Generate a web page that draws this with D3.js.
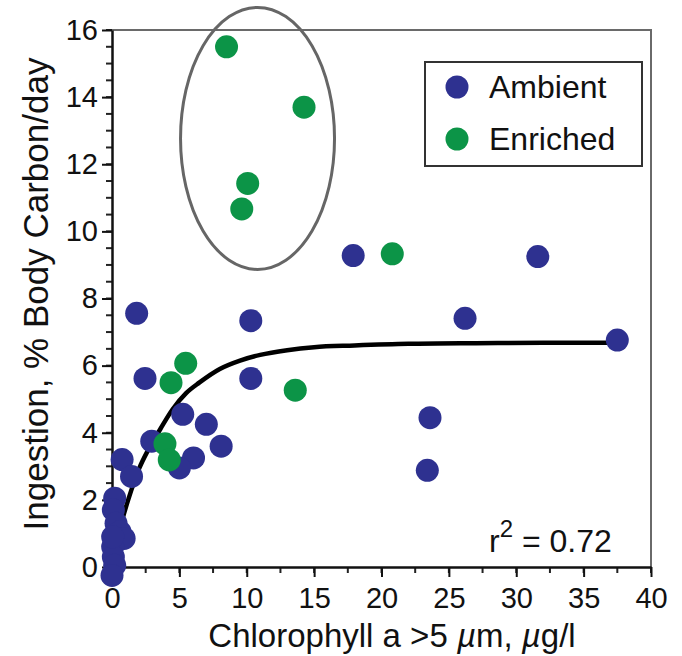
<!DOCTYPE html>
<html>
<head>
<meta charset="utf-8">
<script src="https://cdn.jsdelivr.net/npm/d3@7"></script>
<style>
  html, body { margin: 0; padding: 0; background: #fff; }
  svg { display: block; font-family: "Liberation Sans", Arial, Helvetica, sans-serif; }
</style>
</head>
<body>
<svg id="chart" width="682" height="656"></svg>
<script>
// Ambient treatments: chlorophyll a >5 µm (µg/l) and ingestion (% body carbon/day)
const ambientX = [0.2, 0.1, 0.3, 0.6, 0.9, 0.05, 0.1, 0.2, 0.0, 0.05, 0.75, 1.45,
                  1.83, 10.3, 2.45, 10.3, 5.25, 7.0, 8.1, 2.95, 6.05, 5.0,
                  17.9, 31.6, 26.2, 37.5, 23.6, 23.4];
const ambientY = [2.05, 1.7, 1.3, 1.05, 0.85, 0.6, 0.3, 0.05, -0.25, 0.9, 3.2, 2.7,
                  7.56, 7.34, 5.62, 5.62, 4.55, 4.25, 3.6, 3.75, 3.25, 2.95,
                  9.28, 9.25, 7.41, 6.76, 4.45, 2.88];

// Enriched treatments
const enrichedX = [8.5, 14.25, 10.07, 9.63, 5.47, 4.38, 13.6, 3.93, 4.25, 20.8];
const enrichedY = [15.5, 13.7, 11.43, 10.67, 6.07, 5.49, 5.27, 3.67, 3.19, 9.33];

// Saturating fit through both treatments
const fitX = [0, 1.2, 2.0, 2.7, 3.6, 4.5, 5.5, 6.5, 8, 9.5, 11, 13, 15, 18, 22, 27, 32, 37.2];
const fitY = [0.3, 2.0, 2.92, 3.5, 4.12, 4.7, 5.18, 5.5, 5.9, 6.15, 6.32, 6.46, 6.55, 6.6, 6.65, 6.67, 6.68, 6.68];

const xTicks = [0, 5, 10, 15, 20, 25, 30, 35, 40];
const yTicks = [0, 2, 4, 6, 8, 10, 12, 14, 16];
const seriesNames = ["Ambient", "Enriched"];
const seriesColors = ["#2e3190", "#0c9447"];
const rSquared = "0.72";

const svg = d3.select("#chart");
const margin = { left: 112, top: 30, right: 31, bottom: 89 };
const W = 682, H = 656;

const x = d3.scaleLinear().domain([0, 40]).range([margin.left, W - margin.right]);
const y = d3.scaleLinear().domain([0, 16]).range([H - margin.bottom, margin.top]);

// frame: top and right edges
svg.append("path")
  .attr("d", `M${x(0)},${y(16)}H${x(40)}V${y(0)}`)
  .attr("fill", "none").attr("stroke", "#6a6a6a").attr("stroke-width", 2);

// minor ticks
const minorX = d3.range(0, 40.01, 2.5);
const minorY = d3.range(0, 16.01, 0.5);
svg.append("g").selectAll("line").data(minorX).join("line")
  .attr("x1", d => x(d)).attr("x2", d => x(d))
  .attr("y1", y(0)).attr("y2", y(0) + 6)
  .attr("stroke", "#222").attr("stroke-width", 2);
svg.append("g").selectAll("line").data(minorY).join("line")
  .attr("x1", x(0) - 6).attr("x2", x(0))
  .attr("y1", d => y(d)).attr("y2", d => y(d))
  .attr("stroke", "#222").attr("stroke-width", 2);

// axes
const xAxis = svg.append("g")
  .attr("transform", `translate(0,${y(0)})`)
  .call(d3.axisBottom(x).tickValues(xTicks).tickSize(10).tickPadding(10).tickSizeOuter(0));
const yAxis = svg.append("g")
  .attr("transform", `translate(${x(0)},0)`)
  .call(d3.axisLeft(y).tickValues(yTicks).tickSize(10).tickPadding(4).tickSizeOuter(0));
[xAxis, yAxis].forEach(g => {
  g.select(".domain").attr("stroke", "#111").attr("stroke-width", 2.5);
  g.selectAll(".tick line").attr("stroke", "#111").attr("stroke-width", 2);
  g.selectAll(".tick text")
    .attr("fill", "#111")
    .style("font-size", "29px")
    .style("font-family", "'Liberation Sans', Arial, sans-serif");
});

// axis titles
const xTitle = svg.append("text")
  .attr("x", 392).attr("y", 647)
  .attr("text-anchor", "middle").attr("fill", "#111")
  .style("font-size", "33px");
xTitle.append("tspan").text("Chlorophyll a >5 ");
xTitle.append("tspan").attr("font-style", "italic").text("µ");
xTitle.append("tspan").text("m, ");
xTitle.append("tspan").attr("font-style", "italic").text("µ");
xTitle.append("tspan").text("g/l");

svg.append("text")
  .attr("transform", `translate(48,294) rotate(-90)`)
  .attr("text-anchor", "middle").attr("fill", "#111")
  .style("font-size", "35px")
  .text("Ingestion, % Body Carbon/day");

// fitted curve
const line = d3.line().x((d, i) => x(fitX[i])).y(d => y(d)).curve(d3.curveMonotoneX);
svg.append("path")
  .datum(fitY)
  .attr("d", line)
  .attr("fill", "none").attr("stroke", "#000").attr("stroke-width", 4.5);

// points
const R = 11.5;
svg.append("g").selectAll("circle").data(ambientX).join("circle")
  .attr("cx", d => x(d)).attr("cy", (d, i) => y(ambientY[i])).attr("r", R)
  .attr("fill", seriesColors[0]);
svg.append("g").selectAll("circle").data(enrichedX).join("circle")
  .attr("cx", d => x(d)).attr("cy", (d, i) => y(enrichedY[i])).attr("r", R)
  .attr("fill", seriesColors[1]);

// ellipse around the high enriched values
svg.append("ellipse")
  .attr("cx", x(10.8)).attr("cy", y(12.77)).attr("rx", 77).attr("ry", 131)
  .attr("fill", "none").attr("stroke", "#666").attr("stroke-width", 3);

// legend
const lg = svg.append("g");
lg.append("rect").attr("x", 425).attr("y", 62).attr("width", 217).attr("height", 104)
  .attr("fill", "#fff").attr("stroke", "#333").attr("stroke-width", 2);
seriesNames.forEach((name, i) => {
  const cy = 87 + i * 52;
  lg.append("circle").attr("cx", 457).attr("cy", cy).attr("r", R).attr("fill", seriesColors[i]);
  lg.append("text").attr("x", 489).attr("y", cy + 11).attr("fill", "#111")
    .style("font-size", "32px").text(name);
});

// r² annotation
const rt = svg.append("text").attr("x", 489).attr("y", 552).attr("fill", "#111").style("font-size", "32px");
rt.append("tspan").text("r");
rt.append("tspan").attr("dy", -15).style("font-size", "24px").text("2");
rt.append("tspan").attr("dy", 15).text(" = " + rSquared);
</script>
</body>
</html>
